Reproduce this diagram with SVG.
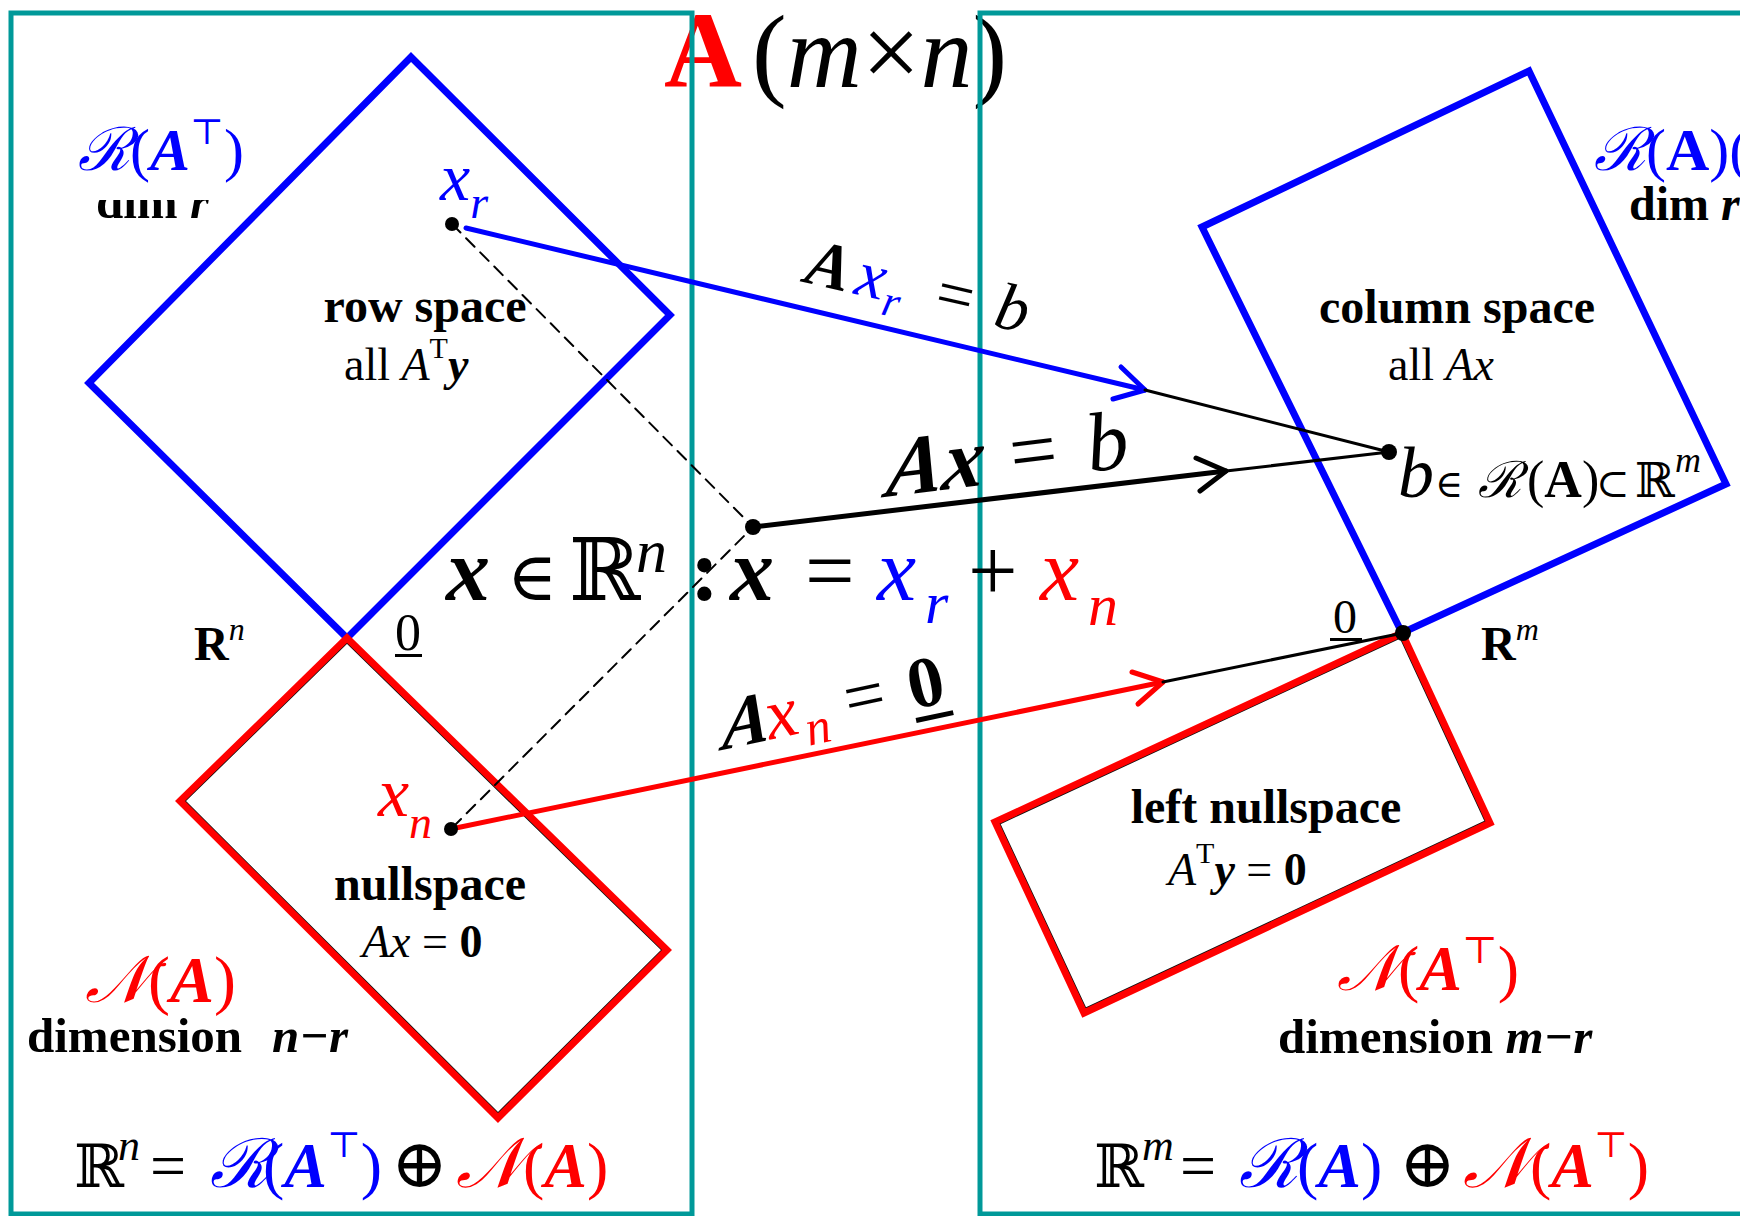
<svg xmlns="http://www.w3.org/2000/svg" width="1740" height="1216" viewBox="0 0 1740 1216">
<style>
text{font-family:"Liberation Serif","DejaVu Serif",serif;fill:#000}
.b{font-weight:bold}
.i{font-style:italic}
.bl{fill:#0000ff}
.rd{fill:#ff0000}
.sym{font-family:"DejaVu Serif","Liberation Serif",serif;font-style:normal;font-weight:normal}
.scr{font-family:"DejaVu Serif","Liberation Serif",serif;font-style:italic;font-weight:normal}
.panel{fill:none;stroke:#009999;stroke-width:5}
.shapeB{fill:none;stroke:#0000ff;stroke-width:7;stroke-linejoin:miter}
.shapeR{fill:none;stroke:#ff0000;stroke-width:7;stroke-linejoin:miter}
.shadow{fill:none;stroke:#111;stroke-width:8.6}
.conn{fill:none;stroke-linecap:round;stroke-linejoin:round}
.dot{fill:#000}
</style>
<defs>
<clipPath id="clipNull"><polygon points="347,638 667,950 498,1118 180,801"/></clipPath>
<clipPath id="clipLeftNull"><polygon points="1402,633 1490,823 1084,1013 995,822"/></clipPath>
</defs>
<rect width="1740" height="1216" fill="#fff"/>

<g id="title">
<text x="664" y="87" class="b rd" font-size="108">A</text>
<text y="87" font-size="104"><tspan x="752">(</tspan><tspan class="i">m</tspan><tspan>×</tspan><tspan class="i">n</tspan><tspan>)</tspan></text>
</g>

<g id="panels">
<rect id="panel-left" class="panel" x="11" y="13" width="681" height="1201"/>
<rect id="panel-right" class="panel" x="980" y="13" width="820" height="1201"/>
</g>

<g id="row-space">
<polygon class="shapeB" points="411,57 670,315 347,638 89,383"/>
<text x="425" y="322" class="b" font-size="48" text-anchor="middle">row space</text>
<text x="344" y="380" font-size="46">all <tspan class="i">A</tspan><tspan font-size="30" dy="-22">T</tspan><tspan class="b i" dy="22">y</tspan></text>
</g>

<g id="row-space-label">
<text x="96" y="218" class="b" font-size="49">dim <tspan class="i">r</tspan></text>
<rect x="80" y="150" width="170" height="50" fill="#fff"/>
<text x="78" y="170" font-size="60" class="bl"><tspan class="scr">ℛ</tspan><tspan>(</tspan><tspan class="b i">A</tspan><tspan class="sym" font-size="36" dy="-26">⊤</tspan><tspan dy="26">)</tspan></text>
</g>

<g id="nullspace">
<polygon class="shadow" clip-path="url(#clipNull)" points="347,638 667,950 498,1118 180,801"/>
<polygon class="shapeR" points="347,638 667,950 498,1118 180,801"/>
<text x="430" y="900" class="b" font-size="48" text-anchor="middle">nullspace</text>
<text x="362" y="957" font-size="46"><tspan class="i">Ax</tspan> = <tspan class="b">0</tspan></text>
</g>

<g id="nullspace-label">
<text x="85" y="1002" font-size="66" class="rd"><tspan class="scr">𝒩</tspan><tspan>(</tspan><tspan class="b i">A</tspan><tspan>)</tspan></text>
<text x="27" y="1052" font-size="49" class="b">dimension<tspan x="272" class="i">n−r</tspan></text>
</g>

<g id="rn-label">
<text x="194" y="660" class="b" font-size="48">R<tspan class="i" font-weight="normal" font-size="32" dy="-20">n</tspan></text>
<text x="395" y="650" font-size="52">0</text>
<rect x="395" y="654" width="27" height="3" fill="#000"/>
</g>

<g id="column-space">
<polygon class="shapeB" points="1529,71 1726,484 1402,633 1202,227"/>
<text x="1457" y="323" class="b" font-size="48" text-anchor="middle">column space</text>
<text x="1388" y="380" font-size="46">all <tspan class="i">Ax</tspan></text>
</g>

<g id="column-space-label">
<text x="1594" y="170" font-size="60" class="bl"><tspan class="scr">ℛ</tspan><tspan>(</tspan><tspan class="b">A</tspan><tspan>)</tspan><tspan>(</tspan></text>
<text x="1629" y="220" class="b" font-size="48">dim <tspan class="i">r</tspan></text>
</g>

<g id="left-nullspace">
<polygon class="shadow" clip-path="url(#clipLeftNull)" points="1402,633 1490,823 1084,1013 995,822"/>
<polygon class="shapeR" points="1402,633 1490,823 1084,1013 995,822"/>
<text x="1266" y="823" class="b" font-size="48" text-anchor="middle">left nullspace</text>
<text x="1168" y="885" font-size="46"><tspan class="i">A</tspan><tspan font-size="30" dy="-22">T</tspan><tspan class="b i" dy="22">y</tspan> = <tspan class="b">0</tspan></text>
</g>

<g id="left-nullspace-label">
<text x="1337" y="990" font-size="64" class="rd"><tspan class="scr">𝒩</tspan><tspan>(</tspan><tspan class="b i">A</tspan><tspan class="sym" font-size="38" dy="-27">⊤</tspan><tspan dy="27">)</tspan></text>
<text x="1278" y="1053" font-size="49" class="b">dimension <tspan class="i">m−r</tspan></text>
</g>

<g id="rm-label">
<text x="1481" y="660" class="b" font-size="48">R<tspan class="i" font-weight="normal" font-size="32" dy="-20">m</tspan></text>
<text x="1333" y="633" font-size="48">0</text>
<rect x="1330" y="638" width="32" height="3" fill="#000"/>
</g>

<g id="connectors">
<path class="conn" d="M452,224 L753,527 L451,829" stroke="#000" stroke-width="2" stroke-dasharray="12 8"/>
<path class="conn" d="M466,228 L1145,390" stroke="#0000ff" stroke-width="5"/>
<path class="conn" d="M1121,367 L1145,390 L1113,399" stroke="#0000ff" stroke-width="5"/>
<path class="conn" d="M1145,390 L1389,452" stroke="#000" stroke-width="3"/>
<path class="conn" d="M753,527 L1226,471" stroke="#000" stroke-width="5"/>
<path class="conn" d="M1196,458 L1226,471 L1200,491" stroke="#000" stroke-width="5"/>
<path class="conn" d="M1226,471 L1389,452" stroke="#000" stroke-width="3"/>
<path class="conn" d="M451,829 L1163,682" stroke="#ff0000" stroke-width="5"/>
<path class="conn" d="M1132,672 L1163,682 L1138,704" stroke="#ff0000" stroke-width="5"/>
<path class="conn" d="M1163,682 L1403,633" stroke="#000" stroke-width="3"/>
</g>

<g id="points">
<circle id="pt-xr" class="dot" cx="452" cy="224" r="7"/>
<circle id="pt-x" class="dot" cx="753" cy="527" r="8"/>
<circle id="pt-xn" class="dot" cx="451" cy="829" r="7"/>
<circle id="pt-b" class="dot" cx="1389" cy="452" r="8"/>
<circle id="pt-0" class="dot" cx="1403" cy="633" r="8"/>
</g>

<g id="point-labels">
<text x="440" y="200" font-size="68" class="i bl">x<tspan font-size="46" dy="18">r</tspan></text>
<text x="378" y="816" font-size="70" class="i rd">x<tspan font-size="46" dy="22">n</tspan></text>
<text y="497"><tspan x="1398" class="i" font-size="72">b</tspan><tspan x="1435" class="sym" font-size="38">∈</tspan><tspan x="1478" class="scr" font-size="50">ℛ</tspan><tspan x="1527" font-size="52">(</tspan><tspan class="b" font-size="52">A</tspan><tspan font-size="52">)</tspan><tspan x="1596" class="sym" font-size="40">⊂</tspan><tspan x="1635" class="sym" font-size="48">ℝ</tspan><tspan class="i" font-size="36" dy="-25">m</tspan></text>
</g>

<g id="equation">
<text y="600" font-size="88"><tspan x="446" class="b i">x</tspan><tspan x="507" class="sym" font-size="68">∈</tspan><tspan x="569" class="sym" font-size="86">ℝ</tspan><tspan x="636" class="i" font-size="62" dy="-28">n</tspan><tspan x="690" class="b" dy="28">:</tspan><tspan x="730" class="b i">x</tspan><tspan x="805">=</tspan><tspan x="877" class="i bl">x</tspan><tspan x="925" class="i bl" font-size="60" dy="23">r</tspan><tspan x="968" dy="-23">+</tspan><tspan x="1040" class="i rd">x</tspan><tspan x="1088" class="i rd" font-size="60" dy="25">n</tspan></text>
</g>

<g id="map-labels">
<g transform="translate(803,282) rotate(13)">
<text font-size="66"><tspan x="0" class="b i">A</tspan><tspan x="51" class="i bl">x</tspan><tspan x="82" class="i bl" font-size="44" dy="14">r</tspan><tspan x="133" dy="-14">=</tspan><tspan x="194" class="i">b</tspan></text>
</g>
<g transform="translate(885,497) rotate(-7)">
<text font-size="84" class="b i" transform="skewX(-13)">Ax</text>
<text font-size="84"><tspan x="129">=</tspan><tspan x="206" class="i">b</tspan></text>
</g>
<g transform="translate(722,750) rotate(-12)">
<text font-size="72" class="b i" transform="skewX(-14)">A</text>
<text font-size="72"><tspan x="49" class="i rd">x</tspan><tspan x="86" class="i rd" font-size="50" dy="14">n</tspan><tspan x="130" dy="-14">=</tspan><tspan x="195" class="b">0</tspan></text>
<rect x="196" y="9" width="38" height="5" fill="#000"/>
</g>
</g>

<g id="decompositions">
<text y="1187" font-size="64"><tspan x="74" class="sym" font-size="60">ℝ</tspan><tspan x="118" class="i" font-size="44" dy="-27">n</tspan><tspan x="150" dy="27">=</tspan><tspan x="210" class="scr bl" font-size="68">ℛ</tspan><tspan x="263" class="bl">(</tspan><tspan class="b i bl">A</tspan><tspan class="sym bl" font-size="36" dy="-30">⊤</tspan><tspan class="bl" dy="30">)</tspan><tspan x="391" class="sym" font-size="68">⊕</tspan><tspan x="456" class="scr rd" font-size="70">𝒩</tspan><tspan class="rd">(</tspan><tspan class="b i rd">A</tspan><tspan class="rd">)</tspan></text>
<text y="1187" font-size="64"><tspan x="1094" class="sym" font-size="60">ℝ</tspan><tspan x="1142" class="i" font-size="44" dy="-27">m</tspan><tspan x="1180" dy="27">=</tspan><tspan x="1239" class="scr bl" font-size="68">ℛ</tspan><tspan x="1297" class="bl">(</tspan><tspan class="b i bl">A</tspan><tspan class="bl">)</tspan><tspan x="1399" class="sym" font-size="68">⊕</tspan><tspan x="1463" class="scr rd" font-size="70">𝒩</tspan><tspan class="rd">(</tspan><tspan class="b i rd">A</tspan><tspan class="sym rd" font-size="36" dy="-30">⊤</tspan><tspan class="rd" dy="30">)</tspan></text>
</g>
</svg>
